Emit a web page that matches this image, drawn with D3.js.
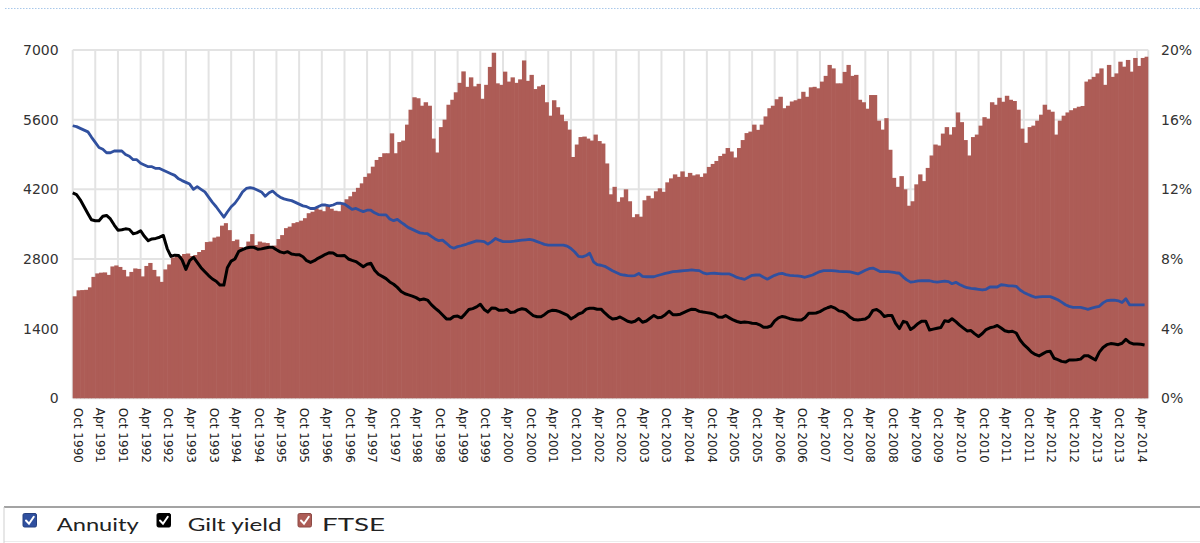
<!DOCTYPE html>
<html><head><meta charset="utf-8">
<script src="https://cdn.jsdelivr.net/npm/d3@7"></script>
<style>
html,body{margin:0;padding:0;background:#fff;}
svg{display:block;}
</style></head>
<body><svg id="chart" width="1200" height="543"></svg>
<script>
// ---------------- DATA ----------------
// monthly bars, Oct 1990 .. Jun 2014 (start-of-month FTSE 100 level)
const ftse = [
2050,2170,2175,2180,2230,2440,2510,2525,2530,2480,
2650,2670,2640,2580,2450,2540,2610,2600,2450,2660,
2720,2580,2450,2340,2590,2690,2830,2890,2860,2900,
2910,2860,2880,2940,2980,3140,3150,3230,3250,3470,
3520,3380,3160,3190,3040,2990,3150,3300,3080,3150,
3130,3120,3050,3070,3200,3280,3420,3450,3520,3540,
3570,3620,3720,3750,3820,3790,3760,3880,3810,3770,
3760,3930,4000,4060,4150,4230,4320,4450,4520,4655,
4790,4850,4925,4925,5325,4925,5150,5180,5500,5800,
6050,6030,5880,5950,5880,5220,4940,5450,5600,5900,
6000,6150,6340,6570,6260,6450,6270,6320,6020,6300,
6660,6945,6330,6300,6565,6365,6450,6340,6410,6790,
6380,6500,6215,6270,6300,5950,5680,5990,5850,5700,
5570,5400,4850,5100,5250,5260,5220,5180,5300,5170,
5120,4720,4100,4250,3950,4040,4200,3960,3640,3700,
3650,3980,4070,4020,4160,4220,4150,4340,4420,4500,
4450,4560,4450,4530,4480,4500,4450,4520,4650,4710,
4770,4870,4915,5030,4960,4840,5030,5190,5330,5360,
5500,5395,5500,5665,5830,5880,6010,6060,5830,5880,
5965,5990,6020,6160,6060,6250,6260,6230,6365,6480,
6700,6630,6330,6330,6560,6700,6480,6500,6000,5950,
5820,6095,6095,5580,5400,5630,4995,4430,4250,4465,
4200,3870,3960,4300,4500,4365,4630,4880,5100,5080,
5320,5450,5300,5450,5745,5550,5190,4880,5250,5300,
5480,5650,5620,5950,5900,6040,5960,6080,6000,5975,
5800,5420,5135,5450,5480,5580,5700,5900,5800,5760,
5300,5580,5680,5745,5790,5830,5860,5875,6365,6410,
6460,6530,6630,6300,6700,6460,6530,6765,6665,6800,
6565,6840,6680,6840,6865
];
const annuity = [
15.65,
15.6,15.5,15.4,15.3,15.0,14.7,14.4,14.3,14.1,14.1,
14.2,14.2,14.2,14.0,13.9,13.7,13.7,13.5,13.4,13.3,
13.3,13.2,13.2,13.1,13.0,12.9,12.8,12.6,12.5,12.4,
12.3,12.0,12.15,12.0,11.85,11.55,11.25,11.0,10.7,10.4,
10.7,11.0,11.2,11.5,11.85,12.05,12.1,12.05,11.95,11.85,
11.6,11.8,11.9,11.7,11.55,11.45,11.4,11.35,11.25,11.15,
11.05,11.0,10.9,10.9,11.0,11.1,11.1,11.05,11.1,11.2,
11.2,11.15,11.0,10.85,10.9,10.8,10.72,10.8,10.8,10.65,
10.55,10.53,10.53,10.3,10.2,10.27,10.1,9.95,9.8,9.7,
9.6,9.5,9.47,9.45,9.3,9.15,9.05,9.08,8.9,8.7,
8.62,8.71,8.76,8.82,8.9,8.97,9.04,9.03,9.0,8.85,
9.0,9.18,9.08,9.0,9.0,9.0,9.02,9.05,9.08,9.1,
9.12,9.08,9.0,8.92,8.84,8.8,8.8,8.8,8.8,8.8,
8.74,8.6,8.4,8.15,8.12,8.2,8.33,7.84,7.68,7.64,
7.58,7.45,7.32,7.22,7.12,7.08,7.05,7.03,7.05,7.17,
7.0,6.98,6.98,6.98,7.05,7.11,7.17,7.22,7.27,7.29,
7.31,7.33,7.35,7.37,7.35,7.33,7.2,7.15,7.17,7.18,
7.16,7.14,7.14,7.14,7.05,6.94,6.88,6.83,6.95,7.06,
7.08,7.08,6.95,6.84,6.95,7.06,7.14,7.17,7.1,7.06,
7.04,7.03,7.0,6.95,7.02,7.08,7.18,7.28,7.33,7.33,
7.33,7.32,7.29,7.27,7.27,7.26,7.2,7.14,7.24,7.35,
7.44,7.48,7.38,7.27,7.27,7.27,7.25,7.21,7.18,6.96,
6.8,6.67,6.7,6.74,6.75,6.75,6.75,6.7,6.67,6.7,
6.73,6.7,6.58,6.66,6.54,6.43,6.35,6.31,6.29,6.26,
6.22,6.26,6.39,6.39,6.39,6.52,6.5,6.45,6.45,6.43,
6.22,6.08,5.97,5.88,5.8,5.82,5.84,5.84,5.84,5.75,
5.66,5.52,5.37,5.28,5.22,5.22,5.22,5.17,5.11,5.18,
5.23,5.28,5.48,5.61,5.63,5.64,5.6,5.5,5.72,5.36,
5.36,5.36,5.36,5.36
];
const gilt = [
11.8,
11.7,11.4,11.0,10.6,10.25,10.2,10.2,10.45,10.5,10.3,
9.95,9.65,9.68,9.73,9.7,9.45,9.5,9.62,9.3,9.05,
9.15,9.18,9.25,9.35,8.6,8.15,8.22,8.2,7.95,7.4,
7.9,8.1,7.8,7.5,7.27,7.05,6.85,6.72,6.5,6.5,
7.5,7.88,8.0,8.44,8.54,8.63,8.67,8.67,8.56,8.58,
8.63,8.67,8.67,8.53,8.41,8.35,8.42,8.28,8.25,8.25,
8.13,7.9,7.8,7.9,8.04,8.15,8.27,8.36,8.35,8.2,
8.19,8.2,8.0,7.92,7.85,7.7,7.55,7.7,7.75,7.35,
7.12,7.0,6.87,6.68,6.55,6.37,6.13,6.0,5.94,5.87,
5.78,5.65,5.7,5.64,5.38,5.18,5.0,4.78,4.56,4.55,
4.7,4.72,4.62,4.85,5.1,5.15,5.25,5.4,5.1,4.95,
5.19,5.17,5.05,5.05,5.1,4.93,4.95,5.08,5.14,5.1,
4.92,4.75,4.68,4.68,4.8,4.98,5.05,5.04,4.98,4.88,
4.78,4.56,4.68,4.84,4.92,5.12,5.17,5.17,5.11,5.12,
4.9,4.7,4.55,4.58,4.67,4.55,4.42,4.37,4.42,4.58,
4.37,4.44,4.6,4.76,4.62,4.65,4.8,5.0,4.8,4.8,
4.83,4.93,5.03,5.12,5.1,4.99,4.95,4.92,4.88,4.82,
4.67,4.65,4.75,4.62,4.5,4.41,4.35,4.38,4.36,4.31,
4.3,4.22,4.08,4.08,4.15,4.45,4.62,4.7,4.65,4.57,
4.52,4.5,4.49,4.62,4.88,4.88,4.9,4.98,5.1,5.2,
5.27,5.18,5.02,4.99,4.85,4.65,4.52,4.5,4.52,4.55,
4.7,5.05,5.1,4.95,4.7,4.75,4.76,4.3,4.0,4.42,
4.36,3.95,4.1,4.3,4.43,4.43,3.92,3.97,4.02,4.07,
4.45,4.41,4.57,4.4,4.2,4.03,3.87,3.89,3.7,3.55,
3.72,3.95,4.05,4.1,4.18,4.04,3.88,3.82,3.85,3.75,
3.35,3.08,2.88,2.66,2.52,2.43,2.55,2.67,2.7,2.3,
2.22,2.12,2.08,2.2,2.2,2.21,2.25,2.45,2.45,2.32,
2.2,2.65,2.92,3.08,3.14,3.12,3.08,3.16,3.38,3.2,
3.12,3.12,3.1,3.06
];
const leftTicks = [0, 1400, 2800, 4200, 5600, 7000];
const rightTicks = [0, 4, 8, 12, 16, 20];
const tickLabels = [
"Oct 1990","Apr 1991","Oct 1991","Apr 1992","Oct 1992","Apr 1993","Oct 1993","Apr 1994",
"Oct 1994","Apr 1995","Oct 1995","Apr 1996","Oct 1996","Apr 1997","Oct 1997","Apr 1998",
"Oct 1998","Apr 1999","Oct 1999","Apr 2000","Oct 2000","Apr 2001","Oct 2001","Apr 2002",
"Oct 2002","Apr 2003","Oct 2003","Apr 2004","Oct 2004","Apr 2005","Oct 2005","Apr 2006",
"Oct 2006","Apr 2007","Oct 2007","Apr 2008","Oct 2008","Apr 2009","Oct 2009","Apr 2010",
"Oct 2010","Apr 2011","Oct 2011","Apr 2012","Oct 2012","Apr 2013","Oct 2013","Apr 2014"
];
const seriesNames = ["Annuity", "Gilt yield", "FTSE"];
const seriesColors = ["#30509f", "#000000", "#ad5c56"];

// ---------------- LAYOUT ----------------
const L = 72.7, R = 1148.3, T = 50, B = 398.3;
const svg = d3.select("#chart");
const parse = d3.timeParse("%b %Y");
const domStart = new Date(1990, 9, 1), domEnd = new Date(2014, 6, 1);
const months = d3.timeMonth.range(domStart, domEnd);
const x = d3.scaleTime().domain([domStart, domEnd]).range([L, R]);
const y = d3.scaleLinear().domain([0, 7000]).range([B, T]);
const y2 = d3.scaleLinear().domain([0, 20]).range([B, T]);
const tickDates = tickLabels.map(s => parse(s));

// top dotted rule
svg.append("line").attr("x1", 5).attr("x2", 1200).attr("y1", 8.5).attr("y2", 8.5)
  .attr("stroke", "#a9c8ea").attr("stroke-width", 1).attr("stroke-dasharray", "1.5,1.5");

// grid
const grid = svg.append("g");
grid.selectAll("line.h").data(leftTicks).join("line")
  .attr("x1", L).attr("x2", R).attr("y1", d => y(d)).attr("y2", d => y(d))
  .attr("stroke", "#e3e3e3").attr("stroke-width", 2);
grid.selectAll("line.v").data(tickDates.map(d => x(d)).concat([R])).join("line")
  .attr("x1", d => d).attr("x2", d => d).attr("y1", T).attr("y2", B)
  .attr("stroke", "#e3e3e3").attr("stroke-width", 2);

// bars (slight overlap so neighbouring months form a solid silhouette)
svg.append("g").selectAll("rect").data(ftse).join("rect")
  .attr("x", (d, i) => x(months[i]))
  .attr("width", (d, i) => x(d3.timeMonth.offset(months[i], 1)) - x(months[i]) + (i < ftse.length - 1 ? 0.6 : 0))
  .attr("y", d => y(d))
  .attr("height", d => y(0) - y(d))
  .attr("fill", seriesColors[2]);

// lines
const line = d3.line().x((d, i) => x(months[i])).y(d => y2(d));
svg.append("path").datum(annuity).attr("d", line).attr("fill", "none")
  .attr("stroke", seriesColors[0]).attr("stroke-width", 2.8).attr("stroke-linejoin", "round");
svg.append("path").datum(gilt).attr("d", line).attr("fill", "none")
  .attr("stroke", seriesColors[1]).attr("stroke-width", 3).attr("stroke-linejoin", "round");

// axes
const font = "'DejaVu Sans', Verdana, sans-serif";
const ax = svg.append("g").attr("transform", `translate(${L},0)`)
  .call(d3.axisLeft(y).tickValues(leftTicks).tickSize(0).tickPadding(14).tickFormat(d3.format("d")));
const ax2 = svg.append("g").attr("transform", `translate(${R},0)`)
  .call(d3.axisRight(y2).tickValues(rightTicks).tickSize(0).tickPadding(12.7).tickFormat(d => d + "%"));
[ax, ax2].forEach(g => {
  g.select(".domain").remove();
  g.selectAll("text").attr("font-family", font).attr("font-size", 14).attr("fill", "#333");
});
const axb = svg.append("g").attr("transform", `translate(0,${B})`)
  .call(d3.axisBottom(x).tickValues(tickDates).tickSize(0).tickFormat((d, i) => tickLabels[i]));
axb.select(".domain").remove();
axb.selectAll("text")
  .attr("font-family", font).attr("font-size", 12).attr("fill", "#222")
  .attr("x", 0).attr("y", 0).attr("dy", 0)
  .attr("transform", "translate(0.5,9.5) rotate(90)")
  .style("text-anchor", "start");

// legend
const lg = svg.append("g");
lg.append("line").attr("x1", 4).attr("x2", 1200).attr("y1", 507).attr("y2", 507)
  .attr("stroke", "#a3a3a3").attr("stroke-width", 2);
lg.append("line").attr("x1", 4).attr("x2", 1200).attr("y1", 541.5).attr("y2", 541.5)
  .attr("stroke", "#ececec").attr("stroke-width", 1);
lg.append("line").attr("x1", 4).attr("x2", 4).attr("y1", 507).attr("y2", 543)
  .attr("stroke", "#cfcfcf").attr("stroke-width", 1);
const legendBoxX = [23, 157, 298];
const legendTextX = [56.7, 187.7, 322];
const legendTextW = [82, 94, 63];
seriesNames.forEach((name, i) => {
  const g = lg.append("g").attr("transform", `translate(${legendBoxX[i]},513.5)`);
  g.append("rect").attr("width", 13.5).attr("height", 13.5).attr("rx", 1.5)
    .attr("fill", seriesColors[i]).attr("stroke", d3.color(seriesColors[i]).darker(0.6)).attr("stroke-width", 1);
  g.append("path").attr("d", "M3,7 L6,10.2 L10.8,3.2").attr("fill", "none")
    .attr("stroke", "#fff").attr("stroke-width", 2).attr("stroke-linecap", "round");
  lg.append("text").attr("x", legendTextX[i]).attr("y", 531)
    .attr("font-family", "Lato, 'Open Sans', sans-serif").attr("font-size", 17.5).attr("fill", "#222")
    .attr("textLength", legendTextW[i]).attr("lengthAdjust", "spacingAndGlyphs")
    .text(name);
});
</script>
</body></html>
